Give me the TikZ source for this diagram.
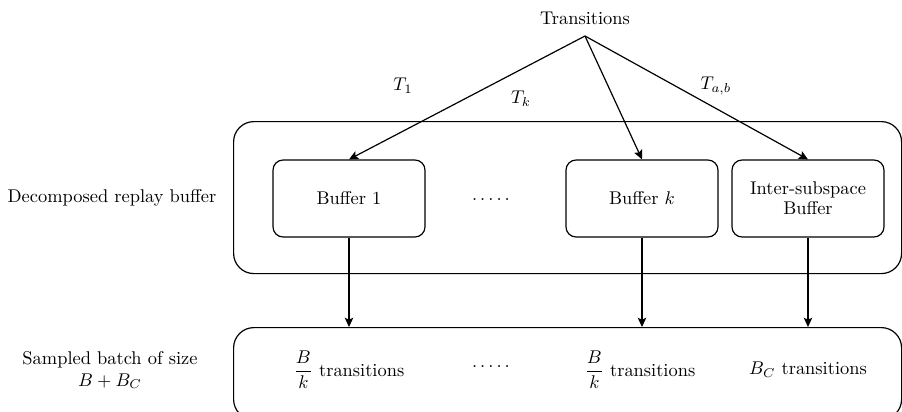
\documentclass[tikz,border=0pt]{standalone}
\usepackage{amsmath}
\usetikzlibrary{arrows.meta}
\begin{document}
\begin{tikzpicture}[x=0.543pt,y=-0.543pt,
  line width=0.65pt,
  arr/.style={-{Stealth[length=5pt,width=4.6pt,inset=1pt]}},
  outerbox/.style={draw, rounded corners=11pt, anchor=north west, inner sep=0pt},
  bufbox/.style={draw, rounded corners=5.5pt, minimum width=152*0.543pt, minimum height=77*0.543pt, align=center, inner sep=1pt},
  lbl/.style={align=center, inner sep=1pt}]
  \useasboundingbox (0,0) rectangle (902,412);
  \clip (0,0) rectangle (902,412);

  % source of all transitions
  \node[lbl] (trans) at (585,18) {Transitions};
  \coordinate (apex) at (585,36);

  % decomposed replay buffer and its sub-buffers
  \node[outerbox, minimum width=668*0.543pt, minimum height=152*0.543pt] (rb) at (233,121) {};
  \node[bufbox] (b1) at (349,198.5) {Buffer 1};
  \node[bufbox] (bk) at (642,198.5) {Buffer $k$};
  \node[bufbox] (bi) at (808,198.5) {Inter-subspace\\[-1pt]Buffer};
  \node[lbl] (dots1) at (491,200) {$.\,.\,.\,.\,.$};
  \node[lbl] (rblabel) at (112,198) {Decomposed replay buffer};

  % sampled batch
  \node[outerbox, minimum width=668*0.543pt, minimum height=92*0.543pt] (sb) at (233,327) {};
  \node[lbl] (s1) at (349,370) {$\dfrac{B}{k}$ transitions};
  \node[lbl] (sdots) at (491,367) {$.\,.\,.\,.\,.$};
  \node[lbl] (sk) at (640,370) {$\dfrac{B}{k}$ transitions};
  \node[lbl] (sc) at (808,370) {$B_C$ transitions};
  \node[lbl] (sblabel) at (110,370) {Sampled batch of size\\$B+B_C$};

  % transitions routed to buffers
  \draw[arr] (apex) -- (b1.north);
  \draw[arr] (apex) -- (bk.north);
  \draw[arr] (apex) -- (bi.north);
  \node[lbl] (t1) at (403,86) {$T_1$};
  \node[lbl] (tk) at (521,99) {$T_k$};
  \node[lbl] (tab) at (716,86) {$T_{a,b}$};

  % sampling from each buffer
  \draw[arr] (b1.south) -- (b1.south |- sb.north);
  \draw[arr] (bk.south) -- (bk.south |- sb.north);
  \draw[arr] (bi.south) -- (bi.south |- sb.north);
\end{tikzpicture}
\end{document}
